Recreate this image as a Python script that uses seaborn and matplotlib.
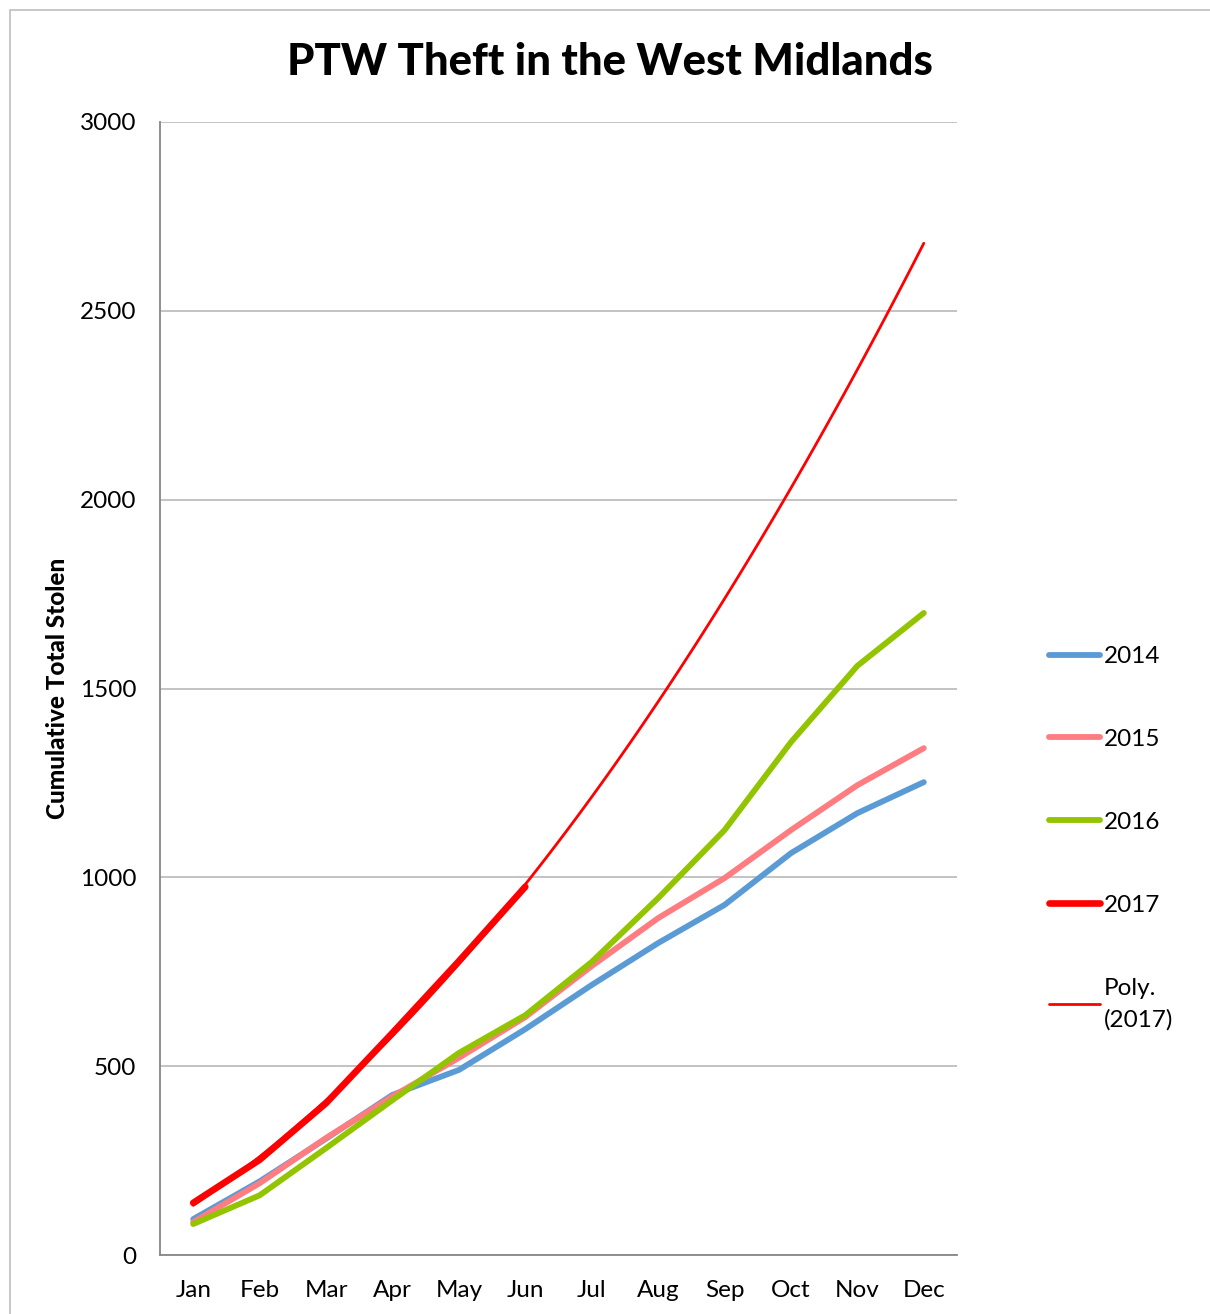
import matplotlib
matplotlib.use("Agg")
import matplotlib.pyplot as plt
import seaborn as sns
import pandas as pd
import numpy as np
from matplotlib.patches import Rectangle

months = ["Jan", "Feb", "Mar", "Apr", "May", "Jun", "Jul", "Aug", "Sep", "Oct", "Nov", "Dec"]
y2014 = [95, 195, 308, 424, 490, 598, 715, 826, 927, 1064, 1170, 1252]
y2015 = [87, 190, 310, 420, 522, 630, 765, 892, 998, 1125, 1244, 1342]
y2016 = [82, 158, 283, 410, 535, 635, 776, 945, 1125, 1358, 1560, 1700]
y2017 = [138, 252, 402, 588, 778, 975]

colors = {"2014": "#5B9BD5", "2015": "#FF7C80", "2016": "#92C400", "2017": "#FF0000"}

sns.set_theme(style="white")
plt.rcParams["font.family"] = ["Lato", "DejaVu Sans"]
plt.rcParams["text.color"] = "black"
plt.rcParams["axes.labelcolor"] = "black"

fig = plt.figure(figsize=(12.1, 13.14), dpi=100)
W, H = 1210, 1314
ax = fig.add_axes([160 / W, 1 - 1255 / H, (957 - 160) / W, (1255 - 122) / H])

# outer chart border
fig.add_artist(Rectangle((10 / W, -0.01), 1.02, 1 - 10 / H + 0.01, transform=fig.transFigure,
                         fill=False, edgecolor="#BFBFBF", linewidth=1.2))

rows = []
for name, vals in [("2014", y2014), ("2015", y2015), ("2016", y2016), ("2017", y2017)]:
    for i, v in enumerate(vals):
        rows.append({"x": i, "value": v, "year": name})
df = pd.DataFrame(rows)

ax.set_xlim(0, 11)
for name in ["2014", "2015", "2016", "2017"]:
    sub = df[df.year == name]
    sns.lineplot(data=sub, x="x", y="value", ax=ax, color=colors[name],
                 linewidth=4.2 if name != "2017" else 4.8, label=name,
                 solid_capstyle="round", zorder=3 if name != "2017" else 4)

d17 = df[df.year == "2017"]
sns.regplot(data=d17, x="x", y="value", order=2, ci=None, truncate=False, scatter=False,
            ax=ax, color="#FF0000", line_kws={"linewidth": 2.0, "zorder": 5},
            label="Poly.\n(2017)")

ax.set_xlim(-0.5, 11.5)
ax.set_ylim(0, 3000)
ax.set_yticks([0, 500, 1000, 1500, 2000, 2500, 3000])
ax.set_yticklabels(["0", "500", "1000", "1500", "2000", "2500", "3000"], fontsize=17.5)
ax.set_xticks(range(12))
ax.set_xticklabels(months, fontsize=17.5)
ax.tick_params(axis="both", length=0, colors="black")
ax.tick_params(axis="x", pad=18)
ax.tick_params(axis="y", pad=17)
ax.grid(axis="y", color="#B3B3B3", linewidth=1.1)
ax.grid(axis="x", visible=False)
for s in ["top", "right"]:
    ax.spines[s].set_visible(False)
for s in ["left", "bottom"]:
    ax.spines[s].set_color("#868686")
    ax.spines[s].set_linewidth(1.3)
ax.set_xlabel("")
ax.set_ylabel("Cumulative Total Stolen", fontsize=17.5, fontweight=900, labelpad=8, color="black")

fig.text(610 / W, 1 - 62 / H, "PTW Theft in the West Midlands", ha="center", va="center",
         fontsize=31.5, fontweight=900, color="black")

handles, labels = ax.get_legend_handles_labels()
leg = ax.legend(handles, labels, loc="upper left", bbox_to_anchor=(1049 / W, 1 - 646 / H),
                bbox_transform=fig.transFigure, frameon=False, fontsize=17.5,
                handlelength=2.1, handletextpad=0.15, labelspacing=2.55, borderaxespad=0,
                borderpad=0)
for t in leg.get_texts():
    t.set_color("black")
    t.set_linespacing(1.6)

fig.savefig("out.png", dpi=100, facecolor="white")
